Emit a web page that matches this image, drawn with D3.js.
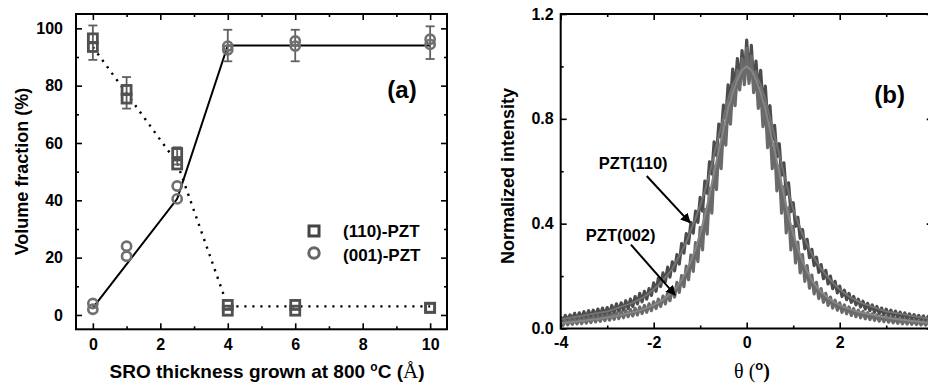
<!DOCTYPE html>
<html>
<head>
<meta charset="utf-8">
<script src="https://cdn.jsdelivr.net/npm/d3@7"></script>
<style>
  body { margin: 0; background: #fff; }
  text { font-family: "Liberation Sans", Arial, sans-serif; font-weight: bold; fill: #000; }
</style>
</head>
<body>
<svg id="fig" width="928" height="387"></svg>
<script>
// ---- panel (a): volume fraction vs SRO thickness
const thickness = [0, 1, 2.5, 4, 6, 10];
// two measurements per thickness
const vf110 = [[96.5, 93.5], [78.5, 75.5], [56.5, 52.5], [3.5, 1.5], [3.5, 1.5], [2.5, 2.5]];
const vf001 = [[4, 2], [24, 20.5], [45, 40.5], [93.8, 92.5], [95.6, 93.8], [96.2, 94.4]];
const errThickness = [0, 1, 2.5, 4, 6, 10];
const errMid = [95, 77.5, 55.5, 94, 94, 95];
const errHalf = [6, 5.5, 3, 5.5, 5.5, 5.7];
const lineSolid = [[0, 2.5], [2.5, 40.5], [4, 94], [10, 94]];
const lineDotted = [[0, 93.5], [2.5, 53], [4, 3], [10, 3]];
const xTicksA = [0, 2, 4, 6, 8, 10];
const xMinorA = [1, 3, 5, 7, 9];
const yTicksA = [0, 20, 40, 60, 80, 100];
const yMinorA = [10, 30, 50, 70, 90];

// ---- panel (b): rocking curves, theta from -4 to 4 (step 0.05 raw, 0.1 fit)
const raw110 = [
  0.045, 0.028, 0.050, 0.032, 0.052, 0.036, 0.058, 0.034, 0.060, 0.040,
  0.064, 0.041, 0.068, 0.044, 0.070, 0.046, 0.074, 0.049, 0.078, 0.051,
  0.080, 0.055, 0.088, 0.060, 0.094, 0.066, 0.098, 0.070, 0.106, 0.076,
  0.112, 0.084, 0.122, 0.094, 0.134, 0.102, 0.142, 0.112, 0.152, 0.126,
  0.174, 0.142, 0.192, 0.160, 0.212, 0.178, 0.234, 0.196, 0.254, 0.220,
  0.282, 0.246, 0.324, 0.288, 0.362, 0.325, 0.405, 0.364, 0.448, 0.405,
  0.500, 0.448, 0.562, 0.516, 0.636, 0.590, 0.712, 0.660, 0.780, 0.730,
  0.852, 0.800, 0.930, 0.862, 0.990, 0.905, 1.030, 0.930, 1.060, 0.945,
  1.100,
  0.950, 1.080, 0.925, 1.020, 0.900, 0.985, 0.850, 0.925, 0.790, 0.850,
  0.720, 0.775, 0.655, 0.705, 0.585, 0.632, 0.512, 0.556, 0.446, 0.480,
  0.390, 0.424, 0.344, 0.378, 0.304, 0.340, 0.270, 0.302, 0.240, 0.272,
  0.214, 0.244, 0.190, 0.222, 0.170, 0.200, 0.152, 0.180, 0.136, 0.162,
  0.122, 0.146, 0.110, 0.134, 0.100, 0.122, 0.090, 0.112, 0.082, 0.104,
  0.074, 0.096, 0.068, 0.090, 0.062, 0.084, 0.057, 0.078, 0.053, 0.074,
  0.049, 0.070, 0.046, 0.066, 0.043, 0.062, 0.040, 0.059, 0.038, 0.056,
  0.036, 0.053, 0.034, 0.050, 0.032, 0.048, 0.030, 0.046, 0.029, 0.044
];
const raw002 = [
  0.028, 0.012, 0.031, 0.014, 0.033, 0.016, 0.035, 0.018, 0.037, 0.019,
  0.039, 0.021, 0.041, 0.023, 0.044, 0.025, 0.046, 0.027, 0.050, 0.030,
  0.053, 0.032, 0.056, 0.035, 0.060, 0.038, 0.064, 0.041, 0.068, 0.045,
  0.072, 0.048, 0.077, 0.052, 0.082, 0.057, 0.088, 0.062, 0.094, 0.068,
  0.102, 0.076, 0.112, 0.084, 0.124, 0.094, 0.138, 0.106, 0.155, 0.120,
  0.176, 0.138, 0.202, 0.160, 0.238, 0.186, 0.280, 0.218, 0.328, 0.255,
  0.385, 0.300, 0.455, 0.360, 0.535, 0.440, 0.620, 0.530, 0.700, 0.610,
  0.780, 0.700, 0.860, 0.780, 0.930, 0.850, 0.985, 0.910, 1.030, 0.930,
  1.070,
  0.935, 1.040, 0.900, 0.980, 0.840, 0.920, 0.770, 0.860, 0.690, 0.780,
  0.610, 0.700, 0.525, 0.620, 0.440, 0.540, 0.365, 0.460, 0.300, 0.390,
  0.250, 0.330, 0.212, 0.282, 0.180, 0.240, 0.154, 0.204, 0.132, 0.176,
  0.114, 0.152, 0.100, 0.134, 0.088, 0.120, 0.078, 0.108, 0.070, 0.098,
  0.062, 0.090, 0.056, 0.082, 0.050, 0.076, 0.045, 0.070, 0.041, 0.065,
  0.037, 0.060, 0.034, 0.056, 0.031, 0.052, 0.028, 0.048, 0.026, 0.045,
  0.024, 0.042, 0.022, 0.039, 0.020, 0.037, 0.018, 0.035, 0.017, 0.033,
  0.016, 0.031, 0.015, 0.029, 0.014, 0.027, 0.013, 0.026, 0.012, 0.025
];
const fit110 = [
  0.035, 0.038, 0.041, 0.044, 0.047, 0.050, 0.053, 0.056, 0.059, 0.062,
  0.065, 0.071, 0.077, 0.083, 0.089, 0.095, 0.103, 0.112, 0.122, 0.135,
  0.150, 0.166, 0.185, 0.205, 0.228, 0.260, 0.293, 0.330, 0.375, 0.420,
  0.470, 0.525, 0.590, 0.665, 0.735, 0.805, 0.875, 0.930, 0.968, 0.990,
  1.000,
  0.990, 0.968, 0.930, 0.875, 0.805, 0.735, 0.665, 0.590, 0.520, 0.455,
  0.405, 0.360, 0.320, 0.285, 0.255, 0.228, 0.205, 0.185, 0.166, 0.150,
  0.135, 0.122, 0.112, 0.103, 0.095, 0.089, 0.083, 0.077, 0.071, 0.065,
  0.062, 0.059, 0.056, 0.053, 0.050, 0.047, 0.044, 0.041, 0.038, 0.035
];
const fit002 = [
  0.020, 0.022, 0.024, 0.026, 0.028, 0.030, 0.032, 0.034, 0.036, 0.039,
  0.042, 0.045, 0.048, 0.052, 0.056, 0.060, 0.064, 0.069, 0.075, 0.082,
  0.090, 0.099, 0.110, 0.124, 0.140, 0.160, 0.185, 0.218, 0.258, 0.305,
  0.362, 0.430, 0.510, 0.595, 0.680, 0.760, 0.840, 0.900, 0.950, 0.985,
  1.000,
  0.985, 0.950, 0.900, 0.840, 0.760, 0.680, 0.595, 0.510, 0.430, 0.362,
  0.305, 0.258, 0.218, 0.185, 0.160, 0.140, 0.124, 0.110, 0.099, 0.090,
  0.082, 0.075, 0.069, 0.064, 0.060, 0.056, 0.052, 0.048, 0.045, 0.042,
  0.039, 0.036, 0.034, 0.032, 0.030, 0.028, 0.026, 0.024, 0.022, 0.020
];
const thetaRaw = d3.range(161).map(i => -4 + i * 0.05);
const thetaFit = d3.range(81).map(i => -4 + i * 0.1);
const xTicksB = [-4, -2, 0, 2, 4];
const xMinorB = [-3, -1, 1, 3];
const yTicksB = [0, 0.4, 0.8, 1.2];
const yMinorB = [0.2, 0.6, 1.0];

const svg = d3.select("#fig");

svg.append("defs").append("marker")
    .attr("id", "head")
    .attr("viewBox", "0 0 10 10")
    .attr("refX", 9).attr("refY", 5)
    .attr("markerWidth", 5).attr("markerHeight", 5)
    .attr("markerUnits", "strokeWidth")
    .attr("orient", "auto")
  .append("path")
    .attr("d", "M0,0 L10,5 L0,10 z")
    .attr("fill", "#000");

// frame + inward ticks on all four sides
function drawFrame(x, y, xMaj, xMin, yMaj, yMin, xFmt, yFmt, xPad, yPad) {
    const [x0, x1] = x.range();
    const [y0, y1] = y.range();
    const g = svg.append("g");
    [[d3.axisBottom, y0, true], [d3.axisTop, y1, false]].forEach(([fn, pos, lab]) => {
        g.append("g").attr("transform", `translate(0,${pos})`)
            .call(fn(x).tickValues(xMaj).tickSize(-6).tickPadding(xPad).tickFormat(lab ? xFmt : ""));
        g.append("g").attr("transform", `translate(0,${pos})`)
            .call(fn(x).tickValues(xMin).tickSize(-3).tickFormat(""));
    });
    [[d3.axisLeft, x0, true], [d3.axisRight, x1, false]].forEach(([fn, pos, lab]) => {
        g.append("g").attr("transform", `translate(${pos},0)`)
            .call(fn(y).tickValues(yMaj).tickSize(-6).tickPadding(yPad).tickFormat(lab ? yFmt : ""));
        g.append("g").attr("transform", `translate(${pos},0)`)
            .call(fn(y).tickValues(yMin).tickSize(-3).tickFormat(""));
    });
    g.selectAll(".domain").remove();
    g.selectAll(".tick line").attr("stroke", "#000").attr("stroke-width", 1.6);
    g.selectAll("text")
        .attr("font-family", "Liberation Sans, Arial, sans-serif")
        .attr("font-weight", "bold")
        .attr("font-size", 16);
    g.append("rect")
        .attr("x", x0).attr("y", y1)
        .attr("width", x1 - x0).attr("height", y0 - y1)
        .attr("fill", "none").attr("stroke", "#000").attr("stroke-width", 2);
    return g;
}

// plain hyphen minus, like the original figure
const fmtInt = d => String(d);
const fmt1 = d => d.toFixed(1);

// ================= panel (a)
const xa = d3.scaleLinear().domain([-0.5, 10.5]).range([76, 447]);
const ya = d3.scaleLinear().domain([-5, 105]).range([329.3, 14]);

const lineA = d3.line().x(d => xa(d[0])).y(d => ya(d[1]));
svg.append("path").attr("d", lineA(lineSolid))
    .attr("fill", "none").attr("stroke", "#000").attr("stroke-width", 2);
svg.append("path").attr("d", lineA(lineDotted))
    .attr("fill", "none").attr("stroke", "#000").attr("stroke-width", 2.4)
    .attr("stroke-dasharray", "2.2,5.8");

// error bars
const eb = svg.append("g").attr("stroke", "#606060").attr("stroke-width", 1.8);
errThickness.forEach((t, i) => {
    const cx = xa(t), top = ya(errMid[i] + errHalf[i]), bot = ya(errMid[i] - errHalf[i]);
    eb.append("line").attr("x1", cx).attr("x2", cx).attr("y1", top).attr("y2", bot);
    eb.append("line").attr("x1", cx - 4.5).attr("x2", cx + 4.5).attr("y1", top).attr("y2", top);
    eb.append("line").attr("x1", cx - 4.5).attr("x2", cx + 4.5).attr("y1", bot).attr("y2", bot);
});

// circles (001)
thickness.forEach((t, i) => {
    vf001[i].forEach(v => {
        svg.append("circle").attr("cx", xa(t)).attr("cy", ya(v)).attr("r", 4.6)
            .attr("fill", "none").attr("stroke", "#707070").attr("stroke-width", 2.6);
    });
});
// squares (110)
thickness.forEach((t, i) => {
    vf110[i].forEach(v => {
        svg.append("rect").attr("x", xa(t) - 4.5).attr("y", ya(v) - 4.5)
            .attr("width", 9).attr("height", 9)
            .attr("fill", "none").attr("stroke", "#505050").attr("stroke-width", 2.8);
    });
});

drawFrame(xa, ya, xTicksA, xMinorA, yTicksA, yMinorA, fmtInt, fmtInt, 9, 13);

svg.append("text").attr("x", xa(9.6)).attr("y", ya(75.7))
    .attr("text-anchor", "end").attr("font-size", 24).text("(a)");

// legend
svg.append("rect").attr("x", xa(6.557) - 5).attr("y", ya(29.3) - 5)
    .attr("width", 10).attr("height", 10)
    .attr("fill", "none").attr("stroke", "#444").attr("stroke-width", 3);
svg.append("circle").attr("cx", xa(6.557)).attr("cy", ya(21.6)).attr("r", 5.2)
    .attr("fill", "none").attr("stroke", "#666").attr("stroke-width", 3);
svg.append("text").attr("x", xa(7.417)).attr("y", ya(27.3)).attr("font-size", 17).text("(110)-PZT");
svg.append("text").attr("x", xa(7.417)).attr("y", ya(18.8)).attr("font-size", 17).text("(001)-PZT");

// axis titles (a)
const xtA = svg.append("text").attr("x", 267).attr("y", 378)
    .attr("text-anchor", "middle").attr("font-size", 19);
xtA.append("tspan").text("SRO thickness grown at 800 ");
xtA.append("tspan").attr("dy", -7).attr("font-size", 12).text("o");
xtA.append("tspan").attr("dy", 7).text("C (");
xtA.append("tspan").attr("font-family", "Liberation Serif, serif").attr("font-weight", "normal")
    .attr("font-size", 21).text("Å");
xtA.append("tspan").text(")");

svg.append("text").attr("transform", "translate(28,171.5) rotate(-90)")
    .attr("text-anchor", "middle").attr("font-size", 18).text("Volume fraction (%)");

// ================= panel (b)
const xb = d3.scaleLinear().domain([-4, 4]).range([560.7, 932.7]);
const yb = d3.scaleLinear().domain([0, 1.2]).range([328.5, 14]);

svg.append("clipPath").attr("id", "clipB").append("rect")
    .attr("x", 560.7).attr("y", 14).attr("width", 372).attr("height", 314.5);

const gb = svg.append("g").attr("clip-path", "url(#clipB)");
const lineB = d3.line().x(d => xb(d[0])).y(d => yb(d[1]));
gb.append("path").attr("d", lineB(thetaRaw.map((t, i) => [t, raw110[i]])))
    .attr("fill", "none").attr("stroke", "#4c4c4c").attr("stroke-width", 3.2)
    .attr("stroke-linejoin", "round");
gb.append("path").attr("d", lineB(thetaRaw.map((t, i) => [t, raw002[i]])))
    .attr("fill", "none").attr("stroke", "#6a6a6a").attr("stroke-width", 3.2)
    .attr("stroke-linejoin", "round");
gb.append("path").attr("d", lineB(thetaFit.map((t, i) => [t, fit110[i]])))
    .attr("fill", "none").attr("stroke", "#737373").attr("stroke-width", 2);
gb.append("path").attr("d", lineB(thetaFit.map((t, i) => [t, fit002[i]])))
    .attr("fill", "none").attr("stroke", "#868686").attr("stroke-width", 2);

drawFrame(xb, yb, xTicksB, xMinorB, yTicksB, yMinorB, fmtInt, fmt1, 8, 7);

// annotations
svg.append("text").attr("x", xb(-3.18)).attr("y", yb(0.608)).attr("font-size", 16.5).text("PZT(110)");
svg.append("line")
    .attr("x1", xb(-2.15)).attr("y1", yb(0.582)).attr("x2", xb(-1.22)).attr("y2", yb(0.404))
    .attr("stroke", "#000").attr("stroke-width", 2).attr("marker-end", "url(#head)");
svg.append("text").attr("x", xb(-3.46)).attr("y", yb(0.335)).attr("font-size", 16.5).text("PZT(002)");
svg.append("line")
    .attr("x1", xb(-2.49)).attr("y1", yb(0.32)).attr("x2", xb(-1.54)).attr("y2", yb(0.128))
    .attr("stroke", "#000").attr("stroke-width", 2).attr("marker-end", "url(#head)");

svg.append("text").attr("x", 905).attr("y", 103)
    .attr("text-anchor", "end").attr("font-size", 24).text("(b)");

const xtB = svg.append("text").attr("x", 752).attr("y", 378)
    .attr("text-anchor", "middle").attr("font-size", 20);
xtB.append("tspan").attr("font-family", "Liberation Serif, serif").attr("font-weight", "normal").text("θ (");
xtB.append("tspan").attr("dy", -8).attr("font-size", 13).text("o");
xtB.append("tspan").attr("dy", 8).attr("font-family", "Liberation Serif, serif").text(")");

svg.append("text").attr("transform", "translate(514,176) rotate(-90)")
    .attr("text-anchor", "middle").attr("font-size", 18).text("Normalized intensity");
</script>
</body>
</html>
